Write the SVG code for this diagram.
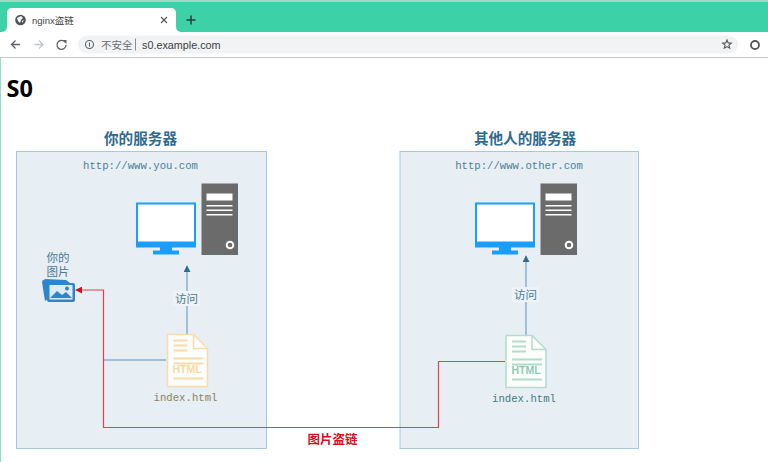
<svg xmlns="http://www.w3.org/2000/svg" width="768" height="462" viewBox="0 0 768 462">
<style>
.ui{font-family:"Liberation Sans","Noto Sans CJK SC",sans-serif}
.title{font-family:"Noto Sans CJK SC",sans-serif;font-size:14.6px;font-weight:700;fill:#2f6a8f;text-anchor:middle}
.mono{font-family:"Liberation Mono",monospace;font-size:10.65px;text-anchor:middle}
.lab{font-family:"Noto Sans CJK SC",sans-serif;font-size:11.5px;fill:#4a7a96;text-anchor:middle}
.panel{fill:#e7eef4;stroke:#a5c8de;stroke-width:1}
.blue{fill:none;stroke:#5b93b5;stroke-width:1}
.red{fill:none;stroke:#e2404a;stroke-width:1.200}
.ico{fill:none;stroke:#5f6368;stroke-width:1.300}
.scr{fill:#1a9dfb}
.tw{fill:#6b6b6b}
</style>
<defs>
<marker id="ab" viewBox="0 0 8 8" refX="7" refY="4" markerWidth="7" markerHeight="7" markerUnits="userSpaceOnUse" orient="auto"><path d="M0 0L8 4L0 8Z" fill="#2f6a8f"/></marker>
<marker id="ar" viewBox="0 0 8 8" refX="7" refY="4" markerWidth="7" markerHeight="7" markerUnits="userSpaceOnUse" orient="auto"><path d="M0 0L8 4L0 8Z" fill="#d0121e"/></marker>
<g id="pc">
<path class="scr" d="M0 0h60v45h-60z"/><path fill="#fff" d="M2 2h56v37h-56z"/><path class="scr" d="M24 44h12v4h-12zM17 48h26v4h-26z"/>
<path class="tw" d="M65.500-19h36.500v71.500h-36.500z"/><path fill="#fff" d="M70.500-9h26v7h-26zM70.500 2.500h26v1.500h-26zM70.500 7h26v1.500h-26zM70.500 11.500h26v1.500h-26z"/>
<circle cx="94" cy="42.500" r="3.300" fill="none" stroke="#fff" stroke-width="2"/>
</g>
<g id="doc">
<path d="M1 1h26l14 14v38h-40z" fill="#fdfdfb" stroke-width="1.500"/>
<path d="M27 1v14h14" fill="none" stroke-width="1.500"/>
<path fill="none" stroke-width="1.800" d="M7 7h14M7 12h14M7 17h14M7 25h30M7 30h30M7 45h30"/>
</g>
</defs>
<rect width="768" height="462" fill="#fff"/>
<g id="browser">
<rect width="768" height="2" fill="#a5d6c8"/>
<rect y="2" width="768" height="30" fill="#3dd1a8"/>
<rect y="32" width="768" height="25" fill="#fff"/>
<rect y="57" width="768" height="1" fill="#c8c8c8"/>
<rect y="58" width="1" height="404" fill="#8fe0c8"/>
<path d="M0 32C5 32 7 30 7 26V13C7 10 9 8 12 8H171C174 8 176 10 176 13V26C176 30 178 32 183 32Z" fill="#fff"/>
<circle cx="20.500" cy="20" r="5.300" fill="#4f5358"/>
<path d="M17 18l4-2 2 2-2 2-1 3-2-2zM22 21l2-1-2 3z" fill="#fff"/>
<text class="ui" x="32" y="24" font-size="9.500" fill="#444">nginx盗链</text>
<path d="M161 17l6 6M167 17l-6 6" stroke="#555" stroke-width="1.100" fill="none"/>
<path d="M191 15.500v9M186.500 20h9" stroke="#2b3b38" stroke-width="1.500" fill="none"/>
<path class="ico" d="M20 44.500h-8.500M15.500 40.500l-4 4 4 4"/>
<path d="M43 44.500h-8.500M39 40.500l4 4-4 4" fill="none" stroke="#c4c7ca" stroke-width="1.300"/>
<path class="ico" d="M65 42a4.500 4.500 0 1 0 1 3"/><path d="M62.500 40h4v4z" fill="#5f6368"/>
<rect x="78" y="35.500" width="660" height="18" rx="9" fill="#f1f3f4"/>
<circle cx="89.500" cy="44.500" r="4" fill="none" stroke="#5f6368" stroke-width="1.100"/>
<path d="M89.500 42.500v4.200" stroke="#5f6368" stroke-width="1.100"/>
<text class="ui" x="101" y="48.500" font-size="10.500" fill="#6a6d70">不安全</text>
<path d="M135.500 38.500v12" stroke="#8a8d90" stroke-width="1"/>
<text class="ui" x="142" y="48.500" font-size="10.800" fill="#3c4043">s0.example.com</text>
<path d="M727 40l1.200 2.900 3.100.3-2.400 2 .8 3-2.700-1.600-2.700 1.600.8-3-2.400-2 3.100-.3z" fill="none" stroke="#555" stroke-width="1.100"/>
<circle cx="755" cy="45" r="4" fill="none" stroke="#555" stroke-width="1.800"/>
<text x="6.500" y="97" font-family="'Open Sans','Noto Sans',sans-serif" font-size="23.500" font-weight="700" fill="#000">S0</text>
</g>
<g id="server-you">
<rect class="panel" x="16.500" y="151.500" width="250" height="297"/>
<text class="title" x="140.500" y="144">你的服务器</text>
<text class="mono" x="140.500" y="168.500" fill="#4f8096">http://www.you.com</text>
</g>
<g id="server-other">
<rect class="panel" x="400" y="151.500" width="238.500" height="297"/>
<text class="title" x="525" y="144">其他人的服务器</text>
<text class="mono" x="519" y="168.500" fill="#4f8096">http://www.other.com</text>
</g>
<g id="connectors">
<path class="blue" d="M187 334V266" marker-end="url(#ab)"/>
<path class="blue" d="M526 335V256" marker-end="url(#ab)"/>
<path class="blue" d="M166 360H103"/>
<path class="red" d="M505 361.500H438.500V427.500H103.500V290H76" marker-end="url(#ar)"/>
</g>
<g id="pc-you"><use href="#pc" x="136" y="202.500"/></g>
<g id="pc-other"><use href="#pc" x="475" y="202.500"/></g>
<g id="picture-you">
<text class="lab" y="262"><tspan x="58">你的</tspan><tspan x="58" dy="13.500">图片</tspan></text>
<path d="M42 282l3-3 21 1 4 3-25 18z" fill="#2d86cc"/>
<rect x="47" y="283" width="28" height="19" rx="2" fill="#2d86cc"/>
<path d="M44 280l3 17" stroke="#2d86cc" stroke-width="3"/>
<rect x="49.500" y="285" width="23" height="14.500" fill="#dcebf6"/>
<path d="M50 298l7-7 5 4 4-3 6 6z" fill="#2d86cc"/>
<circle cx="67" cy="288.500" r="2" fill="#2d86cc"/>
</g>
<g id="label-you"><rect x="173" y="291" width="27" height="15" fill="#eef3f7"/><text class="lab" x="186.500" y="303">访问</text></g>
<g id="label-other"><rect x="512" y="287" width="27" height="15" fill="#eef3f7"/><text class="lab" x="525.500" y="299">访问</text></g>
<g id="html-you">
<use href="#doc" x="166.500" y="333.500" stroke="#f8dcae"/>
<text x="187" y="373" font-family="'Liberation Sans',sans-serif" font-size="10.500" font-weight="700" text-anchor="middle" fill="#f6d9a5">HTML</text>
<text class="mono" x="185.500" y="401" fill="#8f8258">index.html</text>
</g>
<g id="html-other">
<use href="#doc" x="505" y="334.500" stroke="#b2dccd"/>
<text x="526" y="374" font-family="'Liberation Sans',sans-serif" font-size="10.500" font-weight="700" text-anchor="middle" fill="#8dcbb6">HTML</text>
<text class="mono" x="524" y="402" fill="#3f7a80">index.html</text>
</g>
<g id="label-theft"><text x="332.500" y="444" font-family="'Noto Sans CJK SC',sans-serif" font-size="12.500" font-weight="700" fill="#d0121e" text-anchor="middle">图片盗链</text></g>
</svg>
